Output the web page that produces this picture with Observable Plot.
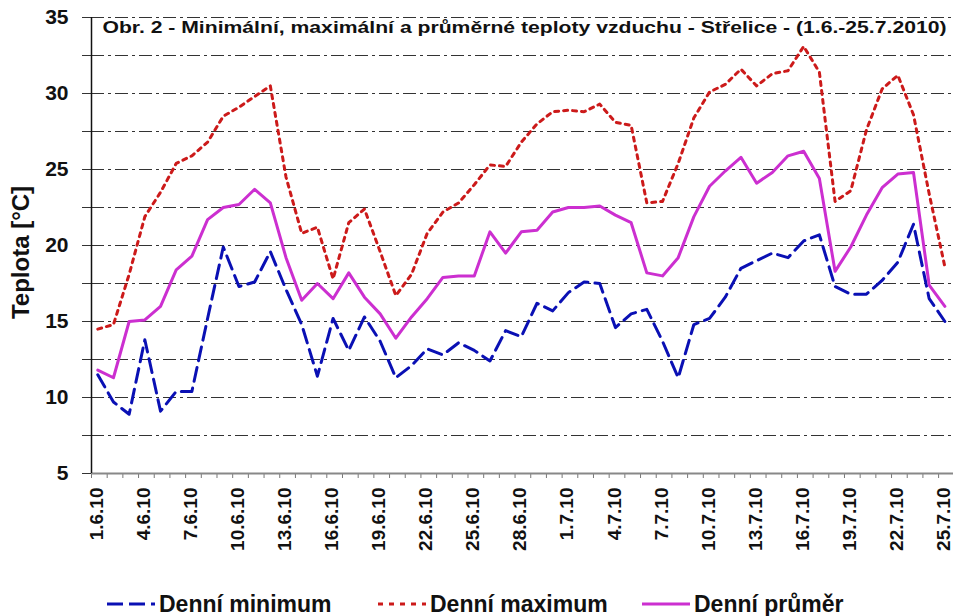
<!DOCTYPE html>
<html>
<head>
<meta charset="utf-8">
<script src="https://cdn.jsdelivr.net/npm/d3@7"></script>
<script src="https://cdn.jsdelivr.net/npm/@observablehq/plot@0.6"></script>
<style>
  body { margin: 0; background: #fff; font-family: "Liberation Sans", Arial, sans-serif; }
  #wrap { width: 955px; }
  #legend { position: relative; width: 955px; height: 36px; }
  .item { position: absolute; top: 8px; height: 32px; display: flex; align-items: center; font-weight: bold; font-size: 23px; color: #111; }
  .item svg { margin-right: 4px; }
</style>
</head>
<body>
<div id="wrap"></div>
<script>
// ---- data ----
const dates = ["1.6.10","2.6.10","3.6.10","4.6.10","5.6.10","6.6.10","7.6.10","8.6.10","9.6.10","10.6.10",
  "11.6.10","12.6.10","13.6.10","14.6.10","15.6.10","16.6.10","17.6.10","18.6.10","19.6.10","20.6.10",
  "21.6.10","22.6.10","23.6.10","24.6.10","25.6.10","26.6.10","27.6.10","28.6.10","29.6.10","30.6.10",
  "1.7.10","2.7.10","3.7.10","4.7.10","5.7.10","6.7.10","7.7.10","8.7.10","9.7.10","10.7.10",
  "11.7.10","12.7.10","13.7.10","14.7.10","15.7.10","16.7.10","17.7.10","18.7.10","19.7.10","20.7.10",
  "21.7.10","22.7.10","23.7.10","24.7.10","25.7.10"];
const tMin = [11.5, 9.7, 8.9, 13.8, 9.1, 10.4, 10.4, 15.2, 19.9, 17.3,
  17.6, 19.6, 17.1, 14.8, 11.4, 15.2, 13.1, 15.3, 13.7, 11.3,
  12.1, 13.2, 12.8, 13.6, 13.1, 12.4, 14.4, 14.0, 16.2, 15.7,
  16.9, 17.6, 17.5, 14.6, 15.5, 15.8, 13.7, 11.3, 14.8, 15.2,
  16.6, 18.5, 19.0, 19.5, 19.2, 20.3, 20.7, 17.3, 16.8, 16.8,
  17.7, 18.9, 21.4, 16.5, 15.0];
const tMax = [14.5, 14.8, 18.1, 21.9, 23.5, 25.4, 25.9, 26.8, 28.5, 29.1,
  29.8, 30.5, 24.5, 20.8, 21.2, 17.8, 21.5, 22.4, 19.6, 16.7,
  18.1, 20.8, 22.2, 22.8, 24.0, 25.3, 25.2, 26.8, 28.0, 28.8,
  28.9, 28.8, 29.3, 28.1, 27.9, 22.8, 22.9, 25.4, 28.4, 30.1,
  30.6, 31.6, 30.5, 31.3, 31.5, 33.1, 31.4, 22.9, 23.6, 27.6,
  30.3, 31.2, 28.6, 23.4, 18.6];
const tMean = [11.8, 11.3, 15.0, 15.1, 16.0, 18.4, 19.3, 21.7, 22.5, 22.7,
  23.7, 22.8, 19.2, 16.4, 17.5, 16.5, 18.2, 16.6, 15.5, 13.9,
  15.3, 16.5, 17.9, 18.0, 18.0, 20.9, 19.5, 20.9, 21.0, 22.2,
  22.5, 22.5, 22.6, 22.0, 21.5, 18.2, 18.0, 19.2, 21.9, 23.9,
  24.9, 25.8, 24.1, 24.8, 25.9, 26.2, 24.4, 18.3, 19.9, 22.0,
  23.8, 24.7, 24.8, 17.4, 16.0];
const yTickLabels = [5, 10, 15, 20, 25, 30, 35];
const yGrid = [7.5, 10, 12.5, 15, 17.5, 20, 22.5, 25, 27.5, 30, 32.5, 35];
const xLabelEvery = 3;
const title = "Obr. 2 - Minimální, maximální a průměrné teploty vzduchu - Střelice - (1.6.-25.7.2010)";
const yTitle = "Teplota [°C]";
const seriesNames = ["Denní minimum", "Denní maximum", "Denní průměr"];

// ---- build ----
const colMin = "#0a10b4", colMax = "#cc1a1a", colMean = "#cc2fd0";
const toRows = (arr) => arr.map((v, i) => ({i, v}));
const xDomain = [-0.4, 54.55];
const yDomain = [5, 35];
const idx = d3.range(dates.length);
const labelIdx = idx.filter(i => i % xLabelEvery === 0);
const boundaries = d3.range(dates.length + 1).map(i => i - 0.4).filter(b => b <= xDomain[1]);
const yTickAll = d3.range(5, 35.01, 2.5);

const chart = Plot.plot({
  width: 955,
  height: 580,
  marginLeft: 91,
  marginRight: 2,
  marginTop: 17,
  marginBottom: 107,
  style: {fontFamily: "'Liberation Sans', Arial, sans-serif", fontWeight: "bold", color: "#111", background: "#fff"},
  x: {type: "linear", domain: xDomain, axis: null},
  y: {domain: yDomain, axis: null},
  marks: [
    Plot.ruleY(yGrid, {stroke: "#333", strokeWidth: 1.2, strokeDasharray: "13,4,3,4"}),
    Plot.axisY(yTickAll, {tickSize: 9, tickFormat: () => "", label: null, stroke: "#333"}),
    Plot.axisX(boundaries, {anchor: "bottom", tickSize: 5, tickFormat: () => "", label: null, stroke: "#777"}),
    Plot.ruleY([yDomain[0]], {stroke: "#888", strokeWidth: 2}),
    Plot.ruleX([xDomain[0]], {stroke: "#111", strokeWidth: 1.5}),
    Plot.text(yTickLabels, {y: d => d, frameAnchor: "left", textAnchor: "end", dx: -23, fontSize: 21, text: d => String(d)}),
    Plot.text([yTitle], {frameAnchor: "left", textAnchor: "middle", rotate: -90, dx: -70, dy: 7, fontSize: 24}),
    Plot.text(labelIdx, {x: d => d, frameAnchor: "bottom", text: d => dates[d], rotate: -90, textAnchor: "end", lineAnchor: "middle", dx: -1, dy: 14, fontSize: 19}),
    Plot.text([title], {frameAnchor: "top-left", textAnchor: "start", lineAnchor: "top", dx: 11, dy: 3, fontSize: 17, className: "ttl"}),
    Plot.line(toRows(tMin), {x: "i", y: "v", stroke: colMin, strokeWidth: 3, strokeDasharray: "14,7"}),
    Plot.line(toRows(tMax), {x: "i", y: "v", stroke: colMax, strokeWidth: 3, strokeDasharray: "4,5"}),
    Plot.line(toRows(tMean), {x: "i", y: "v", stroke: colMean, strokeWidth: 3})
  ]
});
document.getElementById("wrap").appendChild(chart);
// stretch title to the reference width
const t = chart.querySelector("g.ttl text");
if (t) { t.setAttribute("textLength", "844"); t.setAttribute("lengthAdjust", "spacingAndGlyphs"); }

// ---- legend ----
const legend = document.createElement("div");
legend.id = "legend";
const items = [
  {name: seriesNames[0], color: colMin, dash: "16,6", left: 107},
  {name: seriesNames[1], color: colMax, dash: "5,6", left: 378},
  {name: seriesNames[2], color: colMean, dash: null, left: 642}
];
for (const it of items) {
  const div = document.createElement("div");
  div.className = "item";
  div.style.left = it.left + "px";
  div.innerHTML = `<svg width="48" height="10"><line x1="0" y1="5" x2="48" y2="5" stroke="${it.color}" stroke-width="3" ${it.dash ? `stroke-dasharray="${it.dash}"` : ""}/></svg><span>${it.name}</span>`;
  legend.appendChild(div);
}
document.getElementById("wrap").appendChild(legend);
</script>
</body>
</html>
